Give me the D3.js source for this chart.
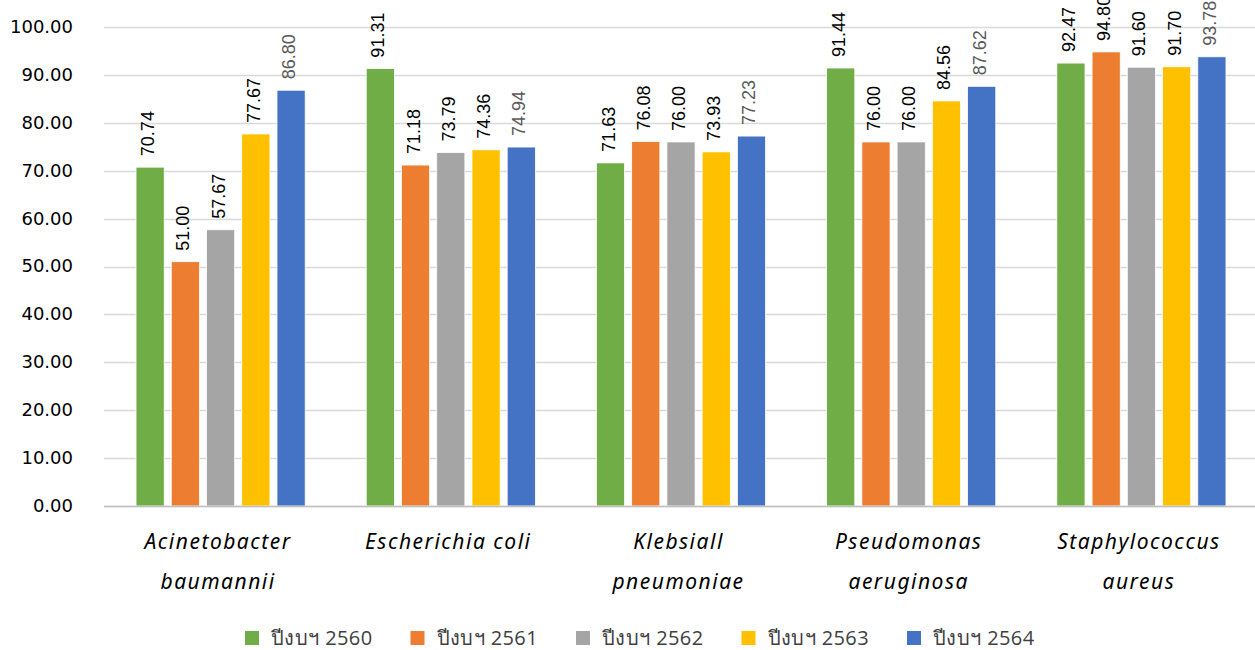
<!DOCTYPE html>
<html>
<head>
<meta charset="utf-8">
<script src="https://cdn.jsdelivr.net/npm/d3@7"></script>
<style>
  html, body { margin: 0; padding: 0; background: #fff; }
  svg { display: block; }
</style>
</head>
<body>
<svg id="chart" width="1255" height="650"></svg>
<script>
// Organisms (category labels, split over lines)
const categories = [
  ["Acinetobacter", "baumannii"],
  ["Escherichia coli"],
  ["Klebsiall", "pneumoniae"],
  ["Pseudomonas", "aeruginosa"],
  ["Staphylococcus", "aureus"]
];
const seriesNames = ["ปีงบฯ 2560", "ปีงบฯ 2561", "ปีงบฯ 2562", "ปีงบฯ 2563", "ปีงบฯ 2564"];
const seriesColors = ["#70ad47", "#ed7d31", "#a5a5a5", "#ffc000", "#4472c4"];

// Values per fiscal year, one entry per organism
const y2560 = [70.74, 91.31, 71.63, 91.44, 92.47];
const y2561 = [51.00, 71.18, 76.08, 76.00, 94.80];
const y2562 = [57.67, 73.79, 76.00, 76.00, 91.60];
const y2563 = [77.67, 74.36, 73.93, 84.56, 91.70];
const y2564 = [86.80, 74.94, 77.23, 87.62, 93.78];
const series = [y2560, y2561, y2562, y2563, y2564];

const yTicks = [0, 10, 20, 30, 40, 50, 60, 70, 80, 90, 100];

const svg = d3.select("#chart");
const plotLeft = 104, plotRight = 1255, plotTop = 27, plotBottom = 506;

const y = d3.scaleLinear().domain([0, 100]).range([plotBottom, plotTop]);
const x0 = d3.scaleBand().domain(d3.range(categories.length)).range([plotLeft, plotRight]).padding(0);
const x1 = d3.scaleBand().domain(d3.range(series.length))
  .range([28.5, x0.bandwidth() - 25.5]).paddingInner(0.2).paddingOuter(0.1);

// Gridlines
svg.append("g").selectAll("line").data(yTicks).join("line")
  .attr("x1", plotLeft).attr("x2", plotRight)
  .attr("y1", d => Math.round(y(d)) + 0.5).attr("y2", d => Math.round(y(d)) + 0.5)
  .attr("stroke", "#d9d9d9").attr("stroke-width", 1.3);

// Y axis labels
const yAxis = d3.axisLeft(y).tickValues(yTicks).tickFormat(d3.format(".2f")).tickSize(0).tickPadding(0);
const yG = svg.append("g").attr("transform", `translate(${plotLeft - 31},0)`).call(yAxis);
yG.select(".domain").remove();
yG.selectAll("text")
  .attr("dy", "0.3em")
  .attr("font-family", "'DejaVu Sans', Verdana, sans-serif")
  .attr("font-size", 18)
  .attr("fill", "#000");

// Bars with rotated value labels
const groups = svg.append("g").selectAll("g").data(categories).join("g")
  .attr("transform", (d, i) => `translate(${x0(i)},0)`);

groups.each(function(cat, ci) {
  const g = d3.select(this);
  series.forEach((vals, si) => {
    const v = vals[ci];
    g.append("rect")
      .attr("x", x1(si)).attr("width", x1.bandwidth())
      .attr("y", y(v)).attr("height", y(0) - y(v))
      .attr("fill", seriesColors[si])
      .attr("stroke", "#fff").attr("stroke-width", 0.8);
    const cx = x1(si) + x1.bandwidth() / 2;
    const ly = y(v) - 11;
    g.append("text")
      .attr("transform", `translate(${cx + 4},${ly}) rotate(-90)`)
      .attr("text-anchor", "start")
      .attr("font-family", "'Liberation Sans', Arial, sans-serif")
      .attr("font-size", 18)
      .attr("fill", si === 4 ? "#595959" : "#000")
      .text(d3.format(".2f")(v));
  });
});

// X axis base line
svg.append("line")
  .attr("x1", plotLeft).attr("x2", plotRight)
  .attr("y1", Math.round(y(0)) + 0.5).attr("y2", Math.round(y(0)) + 0.5)
  .attr("stroke", "#bfbfbf").attr("stroke-width", 1.3);

// Category labels
const catG = svg.append("g");
categories.forEach((lines, i) => {
  const cx = x0(i) + x0.bandwidth() / 2 - 1;
  const t = catG.append("text")
    .attr("x", cx)
    .attr("y", 549)
    .attr("text-anchor", "middle")
    .attr("font-family", "'Noto Sans', 'Open Sans', sans-serif")
    .attr("font-style", "italic")
    .attr("font-size", 21)
    .attr("letter-spacing", 1.5)
    .attr("fill", "#000");
  lines.forEach((ln, k) => {
    t.append("tspan").attr("x", cx).attr("dy", k === 0 ? 0 : 40).text(ln);
  });
});

// Legend
const legend = svg.append("g");
seriesNames.forEach((name, i) => {
  const lx = 245 + i * 165.5;
  legend.append("rect").attr("x", lx).attr("y", 631).attr("width", 14).attr("height", 14)
    .attr("fill", seriesColors[i]);
  legend.append("text").attr("x", lx + 26).attr("y", 645)
    .attr("font-family", "'Open Sans', 'Noto Sans', sans-serif")
    .attr("font-size", 20)
    .attr("letter-spacing", 0.4)
    .attr("fill", "#404040")
    .text(name);
});
</script>
</body>
</html>
